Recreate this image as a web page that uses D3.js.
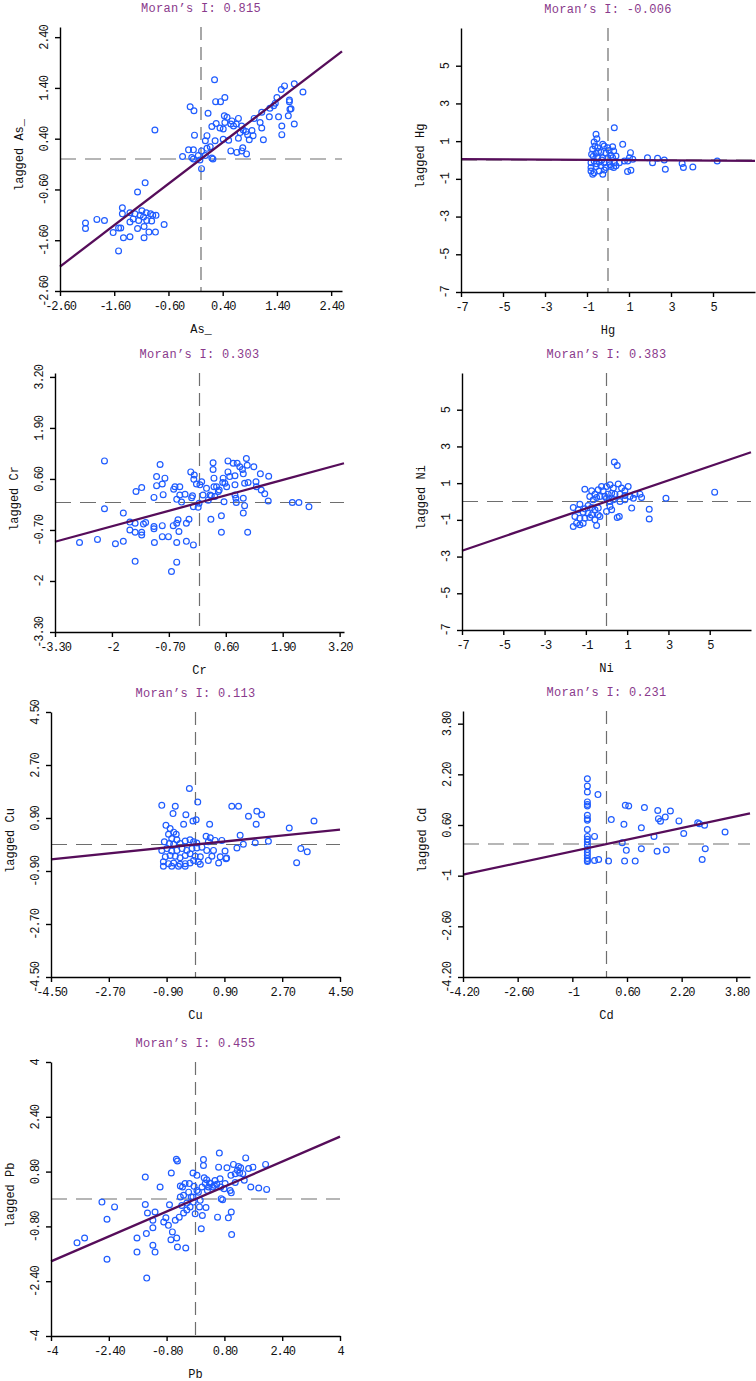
<!DOCTYPE html>
<html>
<head>
<meta charset="utf-8">
<script src="https://cdn.jsdelivr.net/npm/d3@7"></script>
<style>
  body { margin: 0; background: #fff; }
</style>
</head>
<body>
<div id="chart"></div>
<script>
// variable names, Moran's I per panel, axis ranges and tick values
const names = ['As_', 'Hg', 'Cr', 'Ni', 'Cu', 'Cd', 'Pb'];
const moranI = [0.815, -0.006, 0.303, 0.383, 0.113, 0.231, 0.455];
const domains = [[-2.6, 2.6], [-7, 7], [-3.3, 3.3], [-7, 7], [-4.5, 4.5], [-4.2, 4.2], [-4, 4]];
const ticks = [
  [-2.6, -1.6, -0.6, 0.4, 1.4, 2.4],
  [-7, -5, -3, -1, 1, 3, 5],
  [-3.3, -2, -0.7, 0.6, 1.9, 3.2],
  [-7, -5, -3, -1, 1, 3, 5],
  [-4.5, -2.7, -0.9, 0.9, 2.7, 4.5],
  [-4.2, -2.6, -1, 0.6, 2.2, 3.8],
  [-4, -2.4, -0.8, 0.8, 2.4, 4]
];

// [standardized value, spatially lagged value]
const asPts = [
  [-2.13,-1.26],[-2.13,-1.37],[-1.92,-1.19],[-1.78,-1.21],[-1.62,-1.45],[-1.52,-1.36],[-1.48,-1.36],
  [-1.45,-0.96],[-1.45,-1.08],[-1.43,-1.55],[-1.52,-1.81],[-1.31,-1.06],[-1.31,-1.24],[-1.31,-1.53],
  [-1.25,-1.18],[-1.22,-1.08],[-1.17,-0.65],[-1.17,-1.37],[-1.15,-1.21],[-1.12,-1.11],[-1.09,-1.02],
  [-1.06,-1.14],[-1.05,-1.55],[-1.05,-1.33],[-1.03,-0.47],[-1.01,-1.06],[-1.0,-1.21],[-0.96,-1.44],
  [-0.93,-1.08],[-0.91,-1.22],[-0.89,-1.11],[-0.84,-1.44],[-0.83,-1.11],[-0.85,0.57],[-0.68,-1.29],
  [0.25,1.56],[-0.20,1.03],[-0.13,0.95],[0.27,1.13],[0.36,1.13],[0.44,1.21],[0.13,0.90],[1.54,1.44],
  [1.72,1.48],[1.48,1.37],[1.88,1.32],[1.40,1.21],[1.37,1.10],[1.63,1.13],[1.34,1.05],[1.27,1.00],
  [1.66,0.99],[1.12,0.92],[1.61,0.85],[1.43,0.83],[1.26,0.83],[0.43,0.85],[0.48,0.82],[0.69,0.80],
  [0.98,0.80],[0.28,0.70],[0.20,0.64],[0.35,0.61],[0.41,0.59],[0.55,0.69],[0.60,0.65],[0.65,0.69],
  [0.75,0.65],[0.44,0.72],[0.57,0.75],[1.09,0.72],[0.94,0.56],[0.83,0.54],[0.86,0.48],[0.72,0.52],
  [0.78,0.57],[0.96,0.46],[1.12,0.61],[1.49,0.65],[1.72,0.69],[1.49,0.48],[-0.12,0.47],[0.11,0.46],
  [0.08,0.36],[0.26,0.36],[0.41,0.39],[0.51,0.37],[0.69,0.41],[0.89,0.38],[1.15,0.38],[-0.23,0.18],
  [-0.14,0.18],[0.01,0.16],[0.11,0.21],[0.17,0.24],[0.08,0.07],[-0.05,0.07],[-0.34,0.05],[-0.17,0.03],
  [-0.14,0.00],[0.20,0.02],[0.22,0.00],[-0.02,-0.02],[0.01,-0.19],[0.55,0.16],[0.66,0.13],[0.77,0.22],
  [0.84,0.10],[0.75,0.16],[1.64,0.98],[1.63,1.16]
];
const hgPts = [
  [0.30,1.71],[-0.57,1.36],[-0.53,1.13],[-0.66,0.95],[-0.62,0.74],[-0.73,0.57],[-0.49,0.65],[-0.25,0.83],
  [-0.18,0.74],[-0.01,0.65],[0.22,0.70],[0.27,0.48],[0.70,0.83],[-0.78,0.30],[-0.57,0.36],[-0.34,0.42],
  [-0.10,0.36],[0.14,0.25],[-0.49,0.12],[-0.25,0.12],[-0.01,0.12],[0.22,0.12],[0.38,0.21],[1.07,0.39],
  [1.02,0.12],[-0.81,-0.14],[-0.66,-0.05],[-0.42,-0.10],[-0.18,-0.14],[0.06,-0.10],[0.30,-0.14],
  [0.54,-0.14],[0.78,-0.05],[0.94,-0.05],[1.18,0.04],[1.88,0.12],[2.12,-0.14],[2.36,0.09],[2.68,0.00],
  [2.73,-0.49],[3.53,-0.18],[3.59,-0.40],[4.04,-0.37],[5.20,-0.05],[0.93,-0.61],[1.09,-0.54],
  [-0.81,-0.40],[-0.57,-0.35],[-0.34,-0.31],[-0.10,-0.40],[0.14,-0.35],[0.38,-0.31],[-0.81,-0.58],
  [-0.66,-0.67],[-0.42,-0.58],[-0.18,-0.53],[0.27,-0.40],[-0.73,-0.75],[-0.25,-0.75],[-0.45,0.45],
  [-0.70,0.20],[0.05,0.50],[-0.30,0.00],[0.10,-0.25],[-0.55,-0.20]
];
const crPts = [
  [-2.17,1.06],[-0.90,0.97],[-2.74,-1.02],[-2.33,-0.94],[-2.17,-0.16],[-1.92,-1.05],[-1.74,-0.99],
  [-1.74,-0.27],[-1.59,-0.50],[-1.59,-0.70],[-1.47,-0.53],[-1.47,-0.76],[-1.47,-1.50],[-1.45,0.28],
  [-1.32,0.38],[-1.32,-0.76],[-1.32,-0.83],[-1.28,-0.55],[-1.23,-0.51],[-1.04,0.13],[-1.04,-0.61],
  [-1.04,-0.67],[-1.03,-1.02],[-0.98,0.66],[-0.98,0.43],[-0.85,0.47],[-0.85,-0.59],[-0.85,-0.87],
  [-0.83,0.20],[-0.79,0.62],[-0.71,-0.87],[-0.64,-1.76],[-0.60,-0.59],[-0.59,0.34],[-0.56,0.40],
  [-0.52,0.08],[-0.52,-0.53],[-0.52,-1.02],[-0.52,-1.52],[-0.49,-0.44],[-0.47,-0.74],[-0.45,0.40],
  [-0.45,0.19],[-0.41,0.01],[-0.33,0.21],[-0.30,-0.53],[-0.30,-0.99],[-0.24,-0.43],[-0.20,0.78],
  [-0.18,0.12],[-0.16,0.17],[-0.14,-0.11],[-0.14,-1.08],[-0.13,0.59],[-0.12,0.70],[-0.07,0.47],
  [-0.03,-0.12],[-0.01,-0.02],[0.01,0.45],[0.05,0.53],[0.08,0.19],[0.16,0.36],[0.20,0.06],[0.24,0.19],
  [0.26,-0.43],[0.27,0.17],[0.31,1.01],[0.31,0.84],[0.33,0.62],[0.33,0.40],[0.35,0.15],[0.39,0.40],
  [0.43,0.28],[0.45,0.32],[0.50,-0.34],[0.50,-0.76],[0.53,0.51],[0.54,0.62],[0.56,0.02],[0.58,0.49],
  [0.62,0.40],[0.65,1.06],[0.65,0.78],[0.69,0.66],[0.77,1.00],[0.81,0.68],[0.81,0.45],[0.81,0.19],
  [0.83,0.11],[0.84,0.00],[0.86,1.00],[0.92,0.91],[0.98,0.84],[1.00,0.73],[1.00,0.11],[1.00,-0.27],
  [1.03,-0.08],[1.03,0.49],[1.07,1.12],[1.09,0.95],[1.10,-0.76],[1.11,0.51],[1.24,0.91],[1.29,0.53],
  [1.30,0.40],[1.39,0.73],[1.41,0.32],[1.49,0.22],[1.57,0.04],[1.58,0.67],[2.12,0.00],[2.27,0.00],
  [2.50,-0.11]
];
const niPts = [
  [0.38,2.15],[0.52,1.96],[-1.05,0.67],[-0.72,0.58],[-0.81,0.27],[-0.56,0.40],[-0.40,0.64],[-0.24,0.82],
  [-0.16,0.58],[0.00,0.82],[0.17,0.91],[0.33,0.73],[0.57,0.95],[0.73,0.73],[0.89,0.58],[1.05,0.82],
  [-0.48,0.22],[-0.32,0.27],[-0.08,0.27],[0.08,0.40],[0.25,0.45],[0.41,0.40],[0.65,0.40],[0.89,0.33],
  [1.14,0.27],[1.38,0.40],[1.62,0.40],[1.30,0.18],[1.70,0.22],[0.89,0.09],[0.65,0.00],[0.33,0.09],
  [0.17,0.00],[0.00,0.18],[-0.64,0.09],[-1.29,-0.15],[-0.89,-0.22],[-0.72,-0.33],[-0.56,-0.45],
  [-0.40,-0.36],[-1.05,-0.40],[-1.61,-0.33],[-1.37,-0.45],[-1.13,-0.58],[-0.89,-0.64],[-0.72,-0.73],
  [-0.40,-0.73],[-0.32,-0.82],[-1.53,-0.82],[-1.29,-0.91],[-1.05,-0.91],[-0.81,-0.87],[-0.56,-1.00],
  [-1.45,-1.18],[-1.29,-1.27],[-1.61,-1.36],[-0.48,-1.31],[-1.13,-1.18],[0.17,-0.27],[0.25,-0.45],
  [1.22,-0.36],[2.07,-0.42],[2.07,-0.95],[0.62,-0.82],[0.52,-0.87],[2.88,0.18],[0.00,-0.55],[5.24,0.51]
];
const cuPts = [
  [-0.19,1.90],[0.07,1.44],[-1.05,1.33],[-0.63,1.30],[-0.70,1.05],[-0.30,1.01],[-0.08,0.80],[0.02,0.84],
  [-0.37,0.69],[0.44,0.69],[-0.92,0.65],[-0.79,0.54],[-0.68,0.42],[-0.84,0.35],[-0.60,0.35],[-0.74,0.20],
  [-0.58,0.16],[-0.97,0.09],[-0.81,0.03],[-0.68,0.01],[-0.48,0.03],[-0.32,0.12],[-0.17,0.16],[-0.06,0.09],
  [0.04,0.05],[0.33,0.28],[0.46,0.23],[0.40,0.09],[0.61,0.14],[0.82,0.14],[1.13,1.30],[1.34,1.30],
  [1.65,0.96],[1.91,1.13],[2.06,1.01],[1.89,0.69],[1.39,0.31],[1.29,-0.12],[1.49,0.01],[1.86,0.06],
  [2.27,0.11],[-1.05,-0.20],[-0.89,-0.14],[-0.74,-0.22],[-0.58,-0.20],[-0.42,-0.14],[-0.27,-0.20],
  [-0.11,-0.14],[0.04,-0.12],[0.20,-0.09],[0.35,-0.20],[0.56,-0.20],[0.92,-0.22],[-0.94,-0.42],
  [-0.79,-0.37],[-0.63,-0.40],[-0.48,-0.45],[-0.32,-0.37],[-0.17,-0.31],[-0.01,-0.40],[0.15,-0.42],
  [0.51,-0.40],[0.77,-0.42],[0.95,-0.48],[-1.00,-0.59],[-0.84,-0.65],[-0.68,-0.63],[-0.48,-0.67],
  [-0.32,-0.65],[-0.17,-0.63],[-0.06,-0.54],[0.09,-0.59],[0.40,-0.54],[0.72,-0.63],[-1.00,-0.74],
  [-0.74,-0.74],[-0.53,-0.74],[-0.32,-0.74],[0.15,-0.67],[3.15,-0.62],[3.28,-0.14],[3.48,-0.25],
  [3.69,0.80],[2.92,0.56],[0.97,-0.46]
];
const cdPts = [
  [-0.56,2.06],[-0.56,1.83],[-0.56,1.64],[-0.56,1.33],[-0.56,1.25],[-0.56,1.20],[-0.56,0.91],[-0.56,0.80],
  [-0.56,0.75],[-0.56,0.46],[-0.56,0.24],[-0.56,0.15],[-0.56,0.06],[-0.56,-0.04],[-0.56,-0.17],
  [-0.56,-0.27],[-0.56,-0.36],[-0.56,-0.46],[-0.56,-0.52],[-0.56,-0.55],[-0.25,1.56],[-0.35,0.24],
  [-0.35,-0.52],[-0.23,-0.49],[0.06,-0.54],[0.14,0.77],[0.51,0.62],[0.46,0.04],[0.58,-0.20],[0.53,-0.54],
  [0.55,1.22],[0.65,1.20],[0.84,-0.54],[1.02,0.51],[1.02,-0.15],[1.11,1.15],[1.39,0.24],[1.48,-0.23],
  [1.50,1.06],[1.52,0.80],[1.58,0.72],[1.72,0.85],[1.75,-0.18],[1.87,1.04],[2.12,0.73],[2.26,0.33],
  [2.67,0.67],[2.72,0.64],[2.80,-0.49],[2.87,0.59],[2.89,-0.15],[3.47,0.38]
];
const pbPts = [
  [-3.28,-1.28],[-3.07,-1.14],[-2.59,-0.09],[-2.45,-0.59],[-2.45,-1.76],[-2.24,-0.23],[-1.62,-1.14],
  [-1.62,-1.55],[-1.39,0.64],[-1.39,-0.16],[-1.36,-1.01],[-1.35,-2.31],[-1.33,-0.41],[-1.18,-1.35],
  [-1.18,-0.84],[-1.18,-0.62],[-1.12,-0.38],[-1.12,-1.55],[-0.98,0.35],[-0.88,-0.67],[-0.82,-0.55],
  [-0.75,-0.77],[-0.72,-0.17],[-0.68,-1.19],[-0.67,0.76],[-0.64,-0.96],[-0.56,-0.62],[-0.53,1.16],
  [-0.50,1.11],[-0.52,-1.14],[-0.50,-1.40],[-0.45,-0.53],[-0.42,0.06],[-0.42,0.38],[-0.38,-0.19],
  [-0.36,0.35],[-0.33,0.11],[-0.29,0.45],[-0.27,-1.43],[-0.24,-0.12],[-0.19,0.20],[-0.17,0.45],
  [-0.15,-0.23],[-0.12,0.06],[-0.07,0.76],[-0.06,-0.09],[-0.04,0.37],[-0.01,-0.43],[0.04,0.69],
  [0.08,0.20],[0.11,-0.23],[0.13,-0.04],[0.16,-0.87],[0.18,0.35],[0.19,-0.48],[0.22,1.15],[0.22,0.98],
  [0.24,0.62],[0.27,0.45],[0.29,-0.25],[0.31,0.56],[0.33,0.25],[0.39,0.47],[0.42,0.45],[0.48,0.35],
  [0.52,0.40],[0.59,0.43],[0.61,-0.53],[0.64,0.93],[0.66,1.34],[0.68,0.59],[0.70,0.35],[0.71,0.01],
  [0.75,-0.02],[0.82,0.45],[0.87,0.91],[0.91,-0.55],[0.96,0.25],[0.98,0.69],[0.99,0.18],[0.99,-0.38],
  [1.00,-1.04],[1.05,1.01],[1.10,0.48],[1.16,0.84],[1.19,0.95],[1.22,0.76],[1.25,0.91],[1.35,0.55],
  [1.39,1.20],[1.47,0.89],[1.53,0.35],[1.59,0.93],[1.75,0.32],[1.94,1.01],[1.97,0.28],[1.10,0.74],
  [1.31,0.74],[0.79,0.30],[0.54,0.54],[0.36,0.35],[0.04,0.25],[-0.07,0.06],[-0.24,-0.32],[-0.33,-0.41]
];
const points = [asPts, hgPts, crPts, niPts, cuPts, cdPts, pbPts];

// plot frames in page pixels: left, right, top, bottom
const frames = [
  [60, 342, 27, 291], [461, 755, 28, 292],
  [55, 344, 373, 632], [462, 751, 373, 630],
  [51, 340, 712, 977], [463, 750, 711, 977],
  [51, 340, 1062, 1336]
];

const font = '"Liberation Mono", "DejaVu Sans Mono", monospace';
const fmt = v => Number.isInteger(v) ? String(v) : v.toFixed(2);

const svg = d3.select('#chart')
  .append('svg')
  .attr('width', 756)
  .attr('height', 1381)
  .attr('font-family', font)
  .style('background', '#fff');

const drawPanel = i => {
  const [l, r, t, b] = frames[i];
  const x = d3.scaleLinear().domain(domains[i]).range([l, r]);
  const y = d3.scaleLinear().domain(domains[i]).range([b, t]);
  const g = svg.append('g');

  // mean lines
  g.append('line')
    .attr('x1', x(0)).attr('x2', x(0)).attr('y1', t).attr('y2', b)
    .attr('stroke', '#6e6e6e').attr('stroke-width', 1.2).attr('stroke-dasharray', '13,7');
  g.append('line')
    .attr('x1', l).attr('x2', r).attr('y1', y(0)).attr('y2', y(0))
    .attr('stroke', '#6e6e6e').attr('stroke-width', 1.2).attr('stroke-dasharray', '16,9');

  g.selectAll('circle')
    .data(points[i])
    .join('circle')
    .attr('cx', d => x(d[0]))
    .attr('cy', d => y(d[1]))
    .attr('r', 2.9)
    .attr('fill', 'none')
    .attr('stroke', '#1f5cff')
    .attr('stroke-width', 1.2);

  // regression line, slope = Moran's I
  const dom = domains[i];
  g.append('line')
    .attr('x1', x(dom[0])).attr('y1', y(dom[0] * moranI[i]))
    .attr('x2', x(dom[1])).attr('y2', y(dom[1] * moranI[i]))
    .attr('stroke', '#560d5a').attr('stroke-width', 2.3);

  const xAxis = g.append('g')
    .attr('transform', `translate(0,${b})`)
    .call(d3.axisBottom(x).tickValues(ticks[i]).tickFormat(fmt).tickSize(5).tickSizeOuter(0).tickPadding(5));
  const yAxis = g.append('g')
    .attr('transform', `translate(${l},0)`)
    .call(d3.axisLeft(y).tickValues(ticks[i]).tickFormat(fmt).tickSize(5).tickSizeOuter(0));

  [xAxis, yAxis].forEach(a => {
    a.attr('font-family', font).attr('font-size', 12);
    a.selectAll('path, line').attr('stroke', '#000').attr('stroke-width', 1.4);
    a.selectAll('text').attr('fill', '#111').style('letter-spacing', '-1.1px');
  });
  yAxis.selectAll('text')
    .attr('transform', 'rotate(-90)')
    .attr('x', 0).attr('y', -12).attr('dy', 0)
    .attr('text-anchor', 'middle');

  g.append('text')
    .attr('x', (l + r) / 2).attr('y', t - 15)
    .attr('text-anchor', 'middle')
    .attr('font-size', 12).attr('fill', '#8a3a8c')
    .style('letter-spacing', '0.3px')
    .text('Moran\u2019s I: ' + moranI[i].toFixed(3));

  g.append('text')
    .attr('x', (l + r) / 2).attr('y', b + 42)
    .attr('text-anchor', 'middle')
    .attr('font-size', 12).attr('fill', '#111')
    .text(names[i]);

  g.append('text')
    .attr('transform', `translate(${l - 37},${(t + b) / 2 - 4}) rotate(-90)`)
    .attr('text-anchor', 'middle')
    .attr('font-size', 12).attr('fill', '#111')
    .text('lagged ' + names[i]);
}

names.forEach((n, i) => drawPanel(i));
</script>
</body>
</html>
